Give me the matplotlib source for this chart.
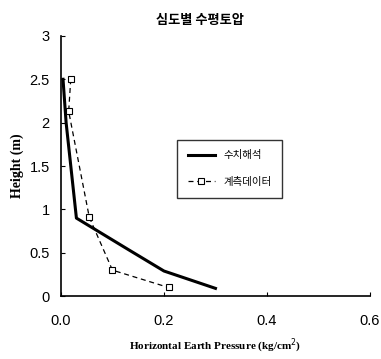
import matplotlib
matplotlib.use("Agg")
import matplotlib.pyplot as plt

# 수치해석 (numerical analysis)
calc_x = [0.004, 0.01, 0.03, 0.13, 0.2, 0.3]
calc_y = [2.5, 2.0, 0.9, 0.54, 0.29, 0.09]

# 계측데이터 (measured data)
meas_x = [0.019, 0.015, 0.055, 0.1, 0.209]
meas_y = [2.5, 2.13, 0.91, 0.3, 0.1]

xticks = [0.0, 0.2, 0.4, 0.6]
yticks = [0, 0.5, 1, 1.5, 2, 2.5, 3]
ytick_labels = ["0", "0.5", "1", "1.5", "2", "2.5", "3"]

kr = ["Noto Sans CJK KR", "DejaVu Sans"]

fig = plt.figure(figsize=(3.81, 3.59), dpi=100)
ax = fig.add_axes([0.160, 0.175, 0.811, 0.725])

ax.plot(calc_x, calc_y, color="black", linewidth=2.2, label="수치해석")
ax.plot(meas_x, meas_y, color="black", linewidth=0.9, linestyle=(0, (4, 3)),
        marker="s", markersize=4, markerfacecolor="white", markeredgewidth=0.8,
        label="계측데이터")

ax.set_xlim(0, 0.6)
ax.set_ylim(0, 3)
ax.set_xticks(xticks)
ax.set_xticklabels([f"{v:.1f}" for v in xticks], family="Liberation Sans", fontsize=10.5)
ax.set_yticks(yticks)
ax.set_yticklabels(ytick_labels, family="Liberation Sans", fontsize=10.5)
ax.tick_params(direction="in", length=3, width=0.8)
ax.tick_params(axis="x", pad=13)
ax.tick_params(axis="y", pad=8)

for s in ["top", "right"]:
    ax.spines[s].set_visible(False)
for s in ["left", "bottom"]:
    ax.spines[s].set_linewidth(1.2)

fig.text(0.525, 0.945, "심도별 수평토압", family=kr, fontsize=9.5, fontweight="bold",
         ha="center", va="center")
ax.set_ylabel("Height (m)", family="Liberation Serif", fontsize=10, fontweight="bold")
ax.set_xlabel("Horizontal Earth Pressure (kg/cm$^2$)", family="Liberation Serif",
              fontsize=8, fontweight="bold", labelpad=6)

leg = ax.legend(loc="upper left", bbox_to_anchor=(0.36, 0.62), prop={"family": kr, "size": 7.5},
                frameon=True, fancybox=False, edgecolor="black", handlelength=2.6,
                labelspacing=1.6, borderpad=1.0)
leg.get_frame().set_linewidth(1.0)

fig.savefig("out.png", dpi=100)
